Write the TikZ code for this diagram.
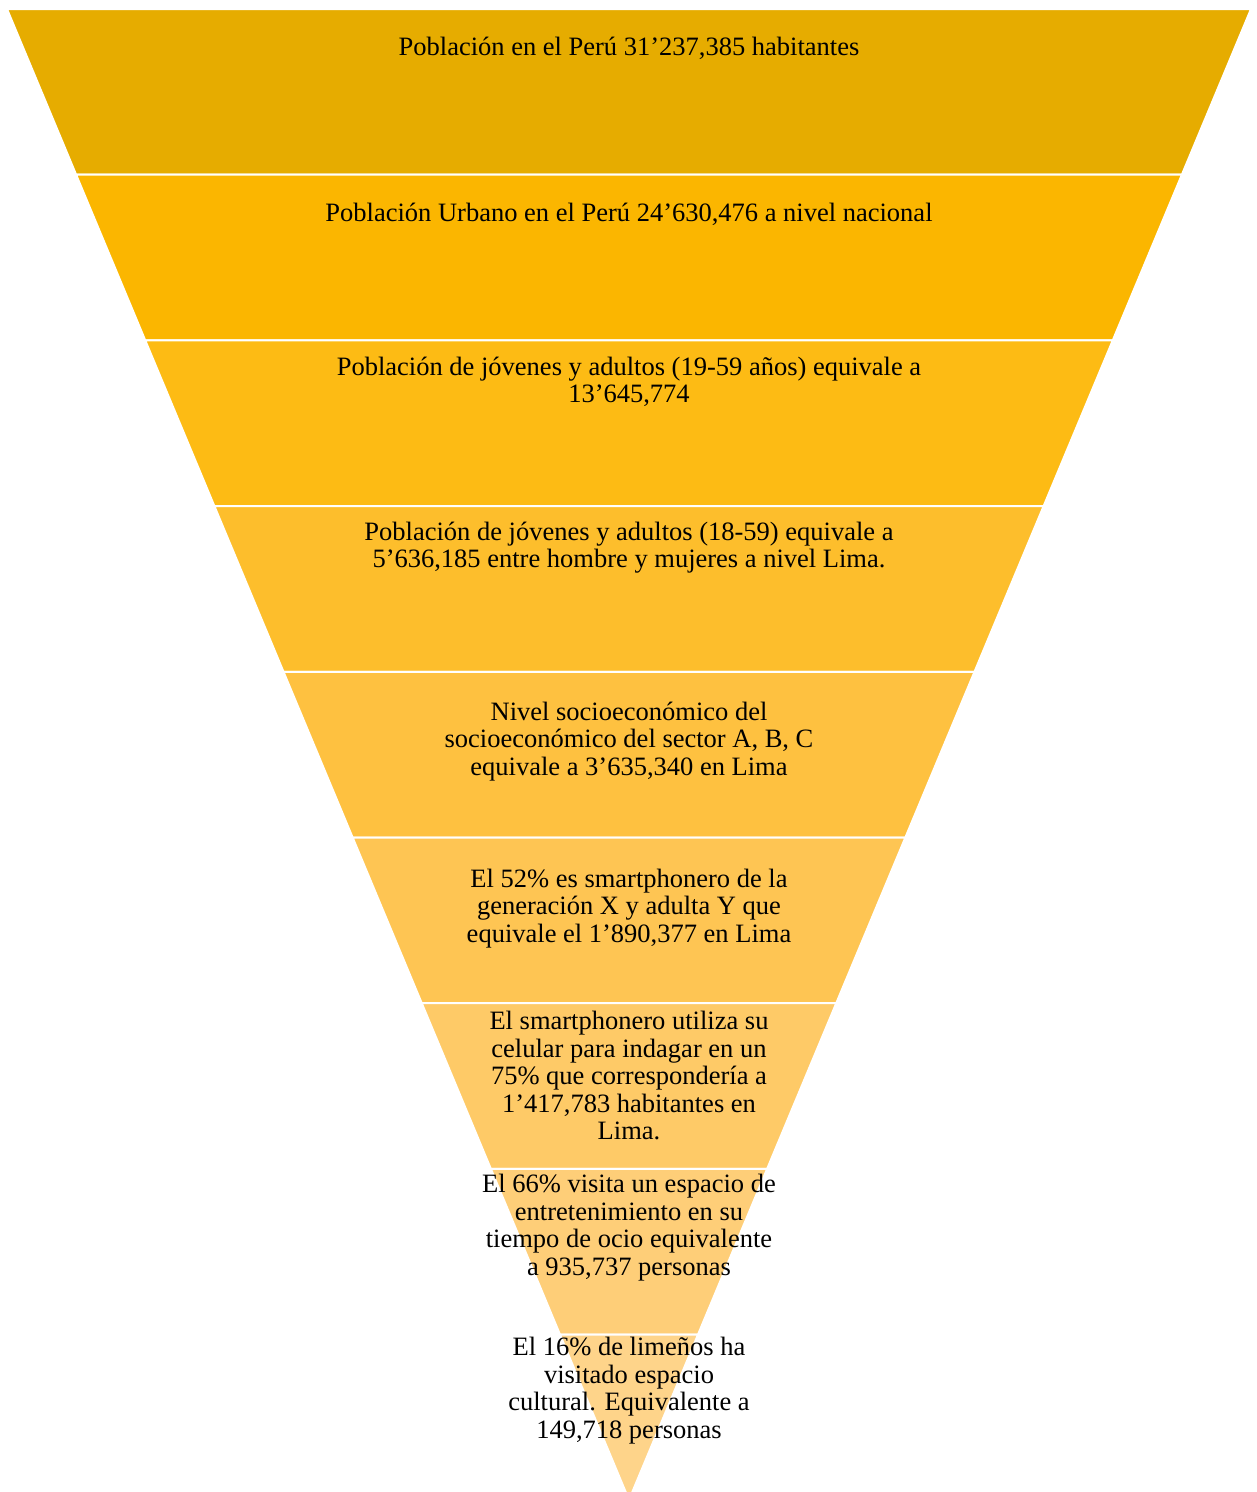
\documentclass[tikz,border=0pt]{standalone}
\usepackage{fontspec}
\setmainfont{Liberation Serif}
\definecolor{bandA}{HTML}{E6AC00}
\definecolor{bandB}{HTML}{FBB600}
\definecolor{bandC}{HTML}{FDBB14}
\definecolor{bandD}{HTML}{FDBE2C}
\definecolor{bandE}{HTML}{FEC140}
\definecolor{bandF}{HTML}{FEC553}
\definecolor{bandG}{HTML}{FECA67}
\definecolor{bandH}{HTML}{FECE78}
\definecolor{bandI}{HTML}{FED48A}
\begin{document}
\begin{tikzpicture}[x=1pt,y=-1pt,
  band/.style={fill=#1,draw=white,line width=2pt,line join=miter},
  label/.style={align=center,inner sep=0pt,font=\fontsize{26.5}{27.5}\selectfont,text=black}]
\useasboundingbox (0,0) rectangle (1257,1492);
\clip (0,0) rectangle (1257,1492);
% nine stacked trapezoids forming the inverted funnel
\foreach \i/\c in {0/bandA,1/bandB,2/bandC,3/bandD,4/bandE,5/bandF,6/bandG,7/bandH,8/bandI}{
  \pgfmathsetmacro\ya{9+165.7*\i}
  \pgfmathsetmacro\yb{9+165.7*(\i+1)}
  \pgfmathsetmacro\xa{7+0.41717*(\ya-9)}
  \pgfmathsetmacro\xb{7+0.41717*(\yb-9)}
  \pgfmathsetmacro\xc{1258-\xa}
  \pgfmathsetmacro\xd{1258-\xb}
  \path[band=\c] (\xa,\ya) -- (\xc,\ya) -- (\xd,\yb) -- (\xb,\yb) -- cycle;
}
% labels of the levels
\node[label] (t1) at (629,48.5) {Población en el Perú 31’237,385 habitantes};
\node[label] (t2) at (629,214.5) {Población Urbano en el Perú 24’630,476 a nivel nacional};
\node[label] (t3) at (629,382) {Población de jóvenes y adultos (19-59 años) equivale a\\13’645,774};
\node[label] (t4) at (629,547.5) {Población de jóvenes y adultos (18-59) equivale a\\5’636,185 entre hombre y mujeres a nivel Lima.};
\node[label] (t5) at (629,741.5) {Nivel socioeconómico del\\socioeconómico del sector A, B, C\\equivale a 3’635,340 en Lima};
\node[label] (t6) at (629,908.5) {El 52\% es smartphonero de la\\generación X y adulta Y que\\equivale el 1’890,377 en Lima};
\node[label] (t7) at (629,1075.5) {El smartphonero utiliza su\\celular para indagar en un\\75\% que correspondería a\\1’417,783 habitantes en\\Lima.};
\node[label] (t8) at (629,1227.5) {El 66\% visita un espacio de\\entretenimiento en su\\tiempo de ocio equivalente\\a 935,737 personas};
\node[label] (t9) at (629,1390.5) {El 16\% de limeños ha\\visitado espacio\\cultural. Equivalente a\\149,718 personas};
\end{tikzpicture}
\end{document}
